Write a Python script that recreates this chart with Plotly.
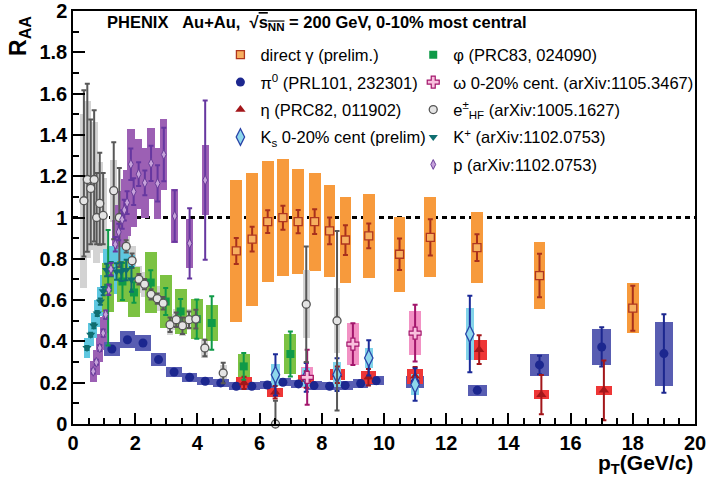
import plotly.graph_objects as go

# ---------------- data ----------------
gamma_pt = [5.25, 5.76, 6.26, 6.75, 7.24, 7.77, 8.25, 8.76, 9.51, 10.5, 11.49, 12.99, 15.0, 18.0]
gamma_R = [0.838, 0.895, 0.98, 0.999, 0.98, 0.98, 0.935, 0.891, 0.911, 0.822, 0.904, 0.854, 0.719, 0.561]
gamma_stat = [0.063, 0.06, 0.055, 0.058, 0.056, 0.06, 0.065, 0.072, 0.06, 0.076, 0.088, 0.065, 0.105, 0.109]
gamma_sys = [0.344, 0.322, 0.293, 0.284, 0.253, 0.237, 0.221, 0.208, 0.205, 0.182, 0.193, 0.172, 0.16, 0.122]

pi0_pt = [1.25, 1.75, 2.25, 2.75, 3.25, 3.75, 4.25, 4.75, 5.25, 5.75, 6.25, 6.75, 7.25, 7.75,
          8.25, 8.75, 9.25, 9.75, 11.0, 13.0, 15.0, 17.0, 19.0]
pi0_R = [0.363, 0.408, 0.392, 0.312, 0.252, 0.226, 0.207, 0.199, 0.183, 0.183, 0.189, 0.202, 0.194,
         0.186, 0.183, 0.187, 0.196, 0.21, 0.203, 0.163, 0.286, 0.373, 0.341]
pi0_stat = [0.005, 0.005, 0.005, 0.005, 0.005, 0.005, 0.005, 0.006, 0.006, 0.007, 0.008, 0.009, 0.01,
            0.011, 0.012, 0.013, 0.014, 0.015, 0.012, 0.012, 0.045, 0.095, 0.19]
pi0_sys = [0.033, 0.04, 0.038, 0.03, 0.025, 0.022, 0.02, 0.02, 0.02, 0.02, 0.02, 0.02, 0.02, 0.02,
           0.02, 0.02, 0.02, 0.022, 0.028, 0.027, 0.055, 0.087, 0.155]

eta_pt = [5.5, 6.5, 7.5, 8.5, 9.5, 11.0, 13.06, 15.06, 17.07]
eta_R = [0.199, 0.154, 0.215, 0.239, 0.226, 0.231, 0.36, 0.142, 0.163]
eta_stat = [0.03, 0.03, 0.04, 0.04, 0.04, 0.045, 0.07, 0.095, 0.145]
eta_sys = [0.027, 0.022, 0.024, 0.025, 0.032, 0.035, 0.048, 0.022, 0.023]

ks_pt = [6.51, 7.5, 8.49, 9.51, 11.0, 12.76]
ks_R = [0.238, 0.226, 0.239, 0.32, 0.191, 0.436]
ks_stat = [0.1, 0.07, 0.079, 0.085, 0.079, 0.185]
ks_sys = [0.053, 0.045, 0.06, 0.049, 0.049, 0.125]

phi_pt = [1.13, 1.59, 1.96, 2.5, 2.98, 3.46, 3.98, 4.46, 5.49, 6.99]
phi_R = [0.66, 0.69, 0.637, 0.685, 0.593, 0.545, 0.508, 0.489, 0.279, 0.339]
phi_stat = [0.28, 0.09, 0.05, 0.06, 0.065, 0.06, 0.095, 0.13, 0.065, 0.109]
phi_sys = [0.12, 0.097, 0.121, 0.148, 0.129, 0.109, 0.096, 0.089, 0.059, 0.099]

omega_pt = [7.53, 9.0, 11.0]
omega_R = [0.226, 0.387, 0.44]
omega_stat = [0.133, 0.101, 0.137]
omega_sys = [0.05, 0.102, 0.106]

eHF_pt = [0.35, 0.46, 0.57, 0.68, 0.76, 0.86, 0.97, 1.31, 1.49, 1.71, 1.9, 2.12, 2.3, 2.51, 2.71,
          2.9, 3.12, 3.32, 3.52, 3.73, 3.95, 4.24, 4.83, 6.51, 7.5, 8.49]
eHF_R = [1.081, 1.184, 1.141, 1.184, 1.0, 1.068, 1.01, 1.13, 1.0, 0.86, 0.791, 0.701, 0.677, 0.628,
         0.607, 0.585, 0.481, 0.505, 0.476, 0.505, 0.508, 0.368, 0.247, 0.0, 0.58, 0.5]
eHF_stat_up = [0.535, 0.464, 0.333, 0.335, 0.215, 0.245, 0.206, 0.235, 0.24, 0.03, 0.035, 0.025, 0.025,
               0.025, 0.025, 0.03, 0.035, 0.035, 0.04, 0.04, 0.045, 0.04, 0.05, 0.113, 0.28, 0.435]
eHF_stat_dn = [0.27, 0.35, 0.27, 0.3, 0.13, 0.2, 0.14, 0.235, 0.24, 0.03, 0.035, 0.025, 0.025,
               0.025, 0.025, 0.03, 0.035, 0.035, 0.04, 0.04, 0.045, 0.04, 0.05, 0.0, 0.28, 0.435]
eHF_sys = [0.42, 0.38, 0.3, 0.28, 0.22, 0.2, 0.18, 0.15, 0.13, 0.07, 0.07, 0.065, 0.06, 0.06, 0.06,
           0.055, 0.05, 0.05, 0.05, 0.05, 0.05, 0.05, 0.04, 0.0, 0.165, 0.157]

kp_pt = [0.45, 0.57, 0.67, 0.78, 0.88, 0.97, 1.08, 1.23, 1.4, 1.55, 1.71, 1.88]
kp_R = [0.368, 0.432, 0.476, 0.535, 0.593, 0.643, 0.746, 0.75, 0.738, 0.738, 0.746, 0.70]
kp_stat = [0.01, 0.01, 0.012, 0.012, 0.015, 0.02, 0.03, 0.035, 0.04, 0.045, 0.05, 0.06]
kp_sys = [0.05, 0.055, 0.06, 0.065, 0.07, 0.08, 0.1, 0.11, 0.11, 0.12, 0.12, 0.12]

p_pt = [0.65, 0.75, 0.86, 0.97, 1.05, 1.15, 1.22, 1.36, 1.47, 1.58, 1.65, 1.74, 1.86, 1.95, 2.11,
        2.31, 2.51, 2.72, 2.92, 3.27, 3.75, 4.25]
p_R = [0.255, 0.299, 0.368, 0.44, 0.53, 0.65, 0.75, 0.87, 0.93, 0.99, 1.036, 1.072, 1.258, 1.125,
       1.21, 1.168, 1.262, 1.165, 1.305, 1.007, 0.875, 1.181]
p_stat = [0.01, 0.012, 0.015, 0.018, 0.02, 0.025, 0.03, 0.035, 0.04, 0.045, 0.05, 0.055, 0.076, 0.065,
          0.057, 0.06, 0.085, 0.088, 0.13, 0.125, 0.17, 0.385]
p_sys = [0.05, 0.06, 0.07, 0.08, 0.09, 0.1, 0.11, 0.12, 0.13, 0.14, 0.15, 0.16, 0.17, 0.17, 0.17,
         0.17, 0.17, 0.17, 0.17, 0.13, 0.12, 0.17]

x_ticks = [0, 2, 4, 6, 8, 10, 12, 14, 16, 18, 20]
y_ticks = [0, 0.2, 0.4, 0.6, 0.8, 1, 1.2, 1.4, 1.6, 1.8, 2]

# ---------------- styles ----------------
FONT = "Liberation Sans, Arial, Helvetica, sans-serif"

series = [
    dict(key="gamma", name="direct γ (prelim.)", legend="legend",
         pt=gamma_pt, R=gamma_R, up=gamma_stat, dn=gamma_stat, sys=gamma_sys, w=0.38,
         box="#f79a3c", marker=dict(symbol="square", size=8, color="#f7b060",
                                     line=dict(color="#b0361e", width=1.3)), err="#a8301c"),
    dict(key="pi0", name="π<sup>0</sup> (PRL101, 232301)", legend="legend",
         pt=pi0_pt, R=pi0_R, up=pi0_stat, dn=pi0_stat, sys=pi0_sys, w=None,
         box="#585db2", marker=dict(symbol="circle", size=9, color="#1c278f"), err="#1c278f"),
    dict(key="eta", name="η (PRC82, 011902)", legend="legend",
         pt=eta_pt, R=eta_R, up=eta_stat, dn=eta_stat, sys=eta_sys, w=0.5,
         box="#ee3636", marker=dict(symbol="triangle-up", size=9, color="#a3161a"), err="#a3161a"),
    dict(key="ks", name="K<sub>s</sub> 0-20% cent (prelim)", legend="legend",
         pt=ks_pt, R=ks_R, up=ks_stat, dn=ks_stat, sys=ks_sys, w=0.26,
         box="#82d4ea", marker=dict(symbol="diamond-tall", size=12, color="#8ed8ec",
                                     line=dict(color="#2a44a8", width=1.3)), err="#1b2a98"),
    dict(key="phi", name="φ (PRC83, 024090)", legend="legend2",
         pt=phi_pt, R=phi_R, up=phi_stat, dn=phi_stat, sys=phi_sys, w=0.38,
         box="#7cc243", marker=dict(symbol="square", size=8, color="#0f9a48"), err="#0f9a48"),
    dict(key="omega", name="ω 0-20% cent. (arXiv:1105.3467)", legend="legend2",
         pt=omega_pt, R=omega_R, up=omega_stat, dn=omega_stat, sys=omega_sys, w=0.4,
         box="#f291c4", marker=dict(symbol="cross", size=10, color="#f9c0de",
                                     line=dict(color="#a3166c", width=1.2)), err="#a3166c"),
    dict(key="ehf", name="e<sup>±</sup><sub>HF</sub> (arXiv:1005.1627)", legend="legend2",
         pt=eHF_pt, R=eHF_R, up=eHF_stat_up, dn=eHF_stat_dn, sys=eHF_sys, w=0.22,
         box="#d3d3d3", marker=dict(symbol="circle", size=8, color="#e4e4e4",
                                     line=dict(color="#555555", width=1.3)), err="#585858"),
    dict(key="kp", name="K<sup>+</sup> (arXiv:1102.0753)", legend="legend2",
         pt=kp_pt, R=kp_R, up=kp_stat, dn=kp_stat, sys=kp_sys, w=0.2,
         box="#5ec7e0", marker=dict(symbol="triangle-down", size=8, color="#0f6e70"), err="#0f6e70"),
    dict(key="p", name="p (arXiv:1102.0753)", legend="legend2",
         pt=p_pt, R=p_R, up=p_stat, dn=p_stat, sys=p_sys, w=0.235,
         box="#9c60b4", marker=dict(symbol="diamond-tall", size=7, color="#c6a2da",
                                     line=dict(color="#6a3d9a", width=1)), err="#6637a0"),
]
by_key = {s["key"]: s for s in series}

fig = go.Figure()

# systematic boxes, drawn first (back to front)
box_order = ["gamma", "ehf", "p", "kp", "phi", "pi0", "omega", "eta", "ks"]
for k in box_order:
    s = by_key[k]
    if s["w"] is None:
        widths = [0.5 if x < 10.5 else 0.6 for x in s["pt"]]
    else:
        widths = [s["w"]] * len(s["pt"])
    fig.add_trace(go.Bar(
        x=s["pt"], y=[2 * e for e in s["sys"]],
        base=[r - e for r, e in zip(s["R"], s["sys"])],
        width=widths, marker=dict(color=s["box"], line=dict(width=0)),
        legendgroup=k, showlegend=False, hoverinfo="skip", legend=s["legend"]))

# points with statistical errors (legend order = series order)
for s in series:
    fig.add_trace(go.Scatter(
        x=s["pt"], y=s["R"], mode="markers", name=s["name"],
        marker=s["marker"], legendgroup=s["key"], legend=s["legend"],
        cliponaxis=False,
        error_y=dict(type="data", symmetric=False, array=s["up"], arrayminus=s["dn"],
                     color=s["err"], thickness=2, width=2.5)))

# R_AA = 1 reference line
fig.add_shape(type="line", xref="x", yref="y", x0=0, x1=20, y0=1, y1=1,
              line=dict(color="black", width=3, dash="5px,4px"), layer="below")

axis_common = dict(showline=True, linecolor="black", linewidth=1.5, mirror=True,
                   ticks="inside", tickcolor="black", tickwidth=1.5, showgrid=False,
                   zeroline=False, automargin=False,
                   tickfont=dict(family=FONT, size=20, color="black", weight="bold"))

legend_common = dict(yanchor="top", xanchor="left", bgcolor="rgba(0,0,0,0)",
                     font=dict(family=FONT, size=16.5, color="black"),
                     tracegroupgap=3, traceorder="grouped")

fig.update_layout(
    width=707, height=481,
    margin=dict(l=73, r=12, t=11, b=57, autoexpand=False),
    paper_bgcolor="white", plot_bgcolor="white",
    barmode="overlay", bargap=0,
    font=dict(family=FONT, color="black"),
    xaxis=dict(range=[0, 20], tickvals=x_ticks, ticklen=11,
               minor=dict(dtick=0.5, ticklen=6, ticks="inside", tickcolor="black", tickwidth=1.5),
               **axis_common),
    yaxis=dict(range=[0, 2], tickvals=y_ticks, ticklen=12,
               minor=dict(dtick=0.1, ticklen=6, ticks="inside", tickcolor="black", tickwidth=1.5),
               **axis_common),
    legend=dict(x=0.237, y=0.936, **legend_common),
    legend2=dict(x=0.547, y=0.936, **legend_common),
    showlegend=True,
)

fig.add_annotation(xref="paper", yref="paper", x=0.052, y=0.97, xanchor="left", yanchor="middle",
                   showarrow=False,
                   text="<b>PHENIX\u00a0\u00a0\u00a0Au+Au,\u00a0 √<span style='text-decoration:overline'>s<sub>NN</sub></span> = 200 GeV, 0-10% most central</b>",
                   font=dict(family=FONT, size=16.5, color="black"))
fig.add_annotation(xref="paper", yref="paper", x=-0.085, y=0.94, xanchor="center", yanchor="middle",
                   showarrow=False, textangle=-90, text="<b>R<sub>AA</sub></b>",
                   font=dict(family=FONT, size=23, color="black"))
fig.add_annotation(xref="paper", yref="paper", x=1.0, y=-0.096, xanchor="right", yanchor="middle",
                   showarrow=False, text="<b>p<sub>T</sub>(GeV/c)</b>",
                   font=dict(family=FONT, size=21, color="black"))

fig.write_html("out.html", config={"displayModeBar": False},
               post_script="document.body.style.margin='0px';")
